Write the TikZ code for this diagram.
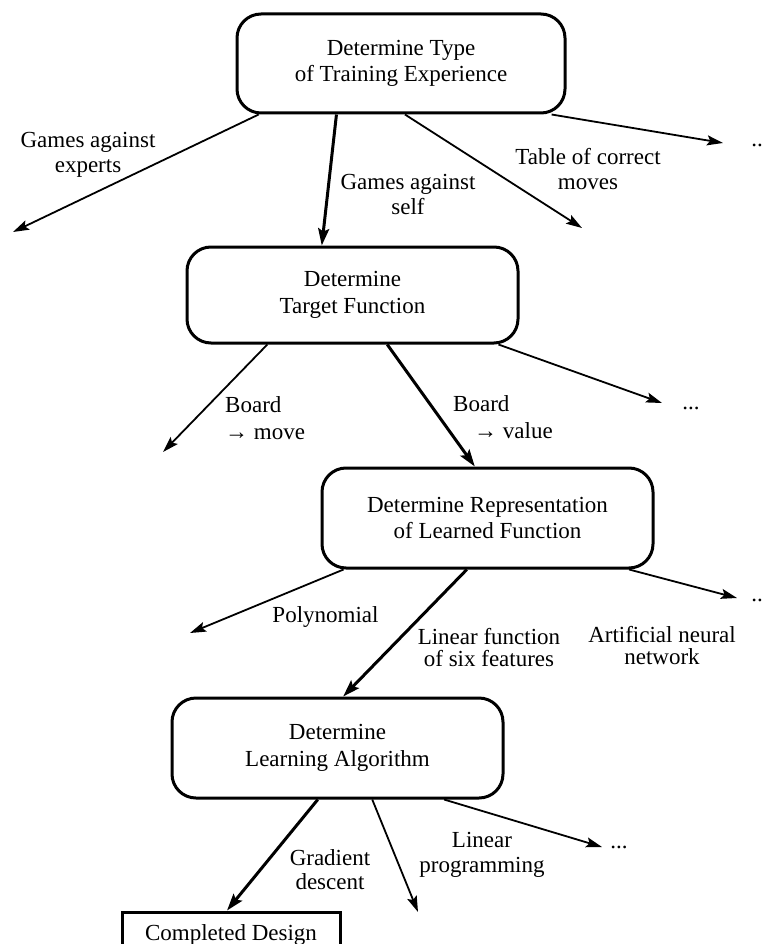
\documentclass[tikz,border=0pt]{standalone}
\usepackage{fontspec}
\setmainfont{Liberation Serif}
\usetikzlibrary{arrows.meta,calc}
\begin{document}
\begin{tikzpicture}[x=1pt,y=-1pt,
  box/.style={draw, line width=3pt, rounded corners=24pt, align=center, inner sep=0pt,
    minimum width=331pt, minimum height=100pt, font=\fontsize{23}{26.5}\selectfont},
  endbox/.style={draw, line width=3pt, align=center, inner sep=0pt,
    minimum width=218pt, minimum height=46pt, font=\fontsize{23}{26.5}\selectfont},
  lbl/.style={align=center, inner sep=0pt, font=\fontsize{23}{25}\selectfont},
  thinarrow/.style={line width=1.8pt, -{Stealth[length=16pt,width=10pt,inset=3pt]}},
  thickarrow/.style={line width=3pt, -{Stealth[length=17pt,width=11pt,inset=3pt]}}]
\useasboundingbox (0,0) rectangle (763,944);

% boxes
\node[box, minimum width=328pt, minimum height=99pt] (b1) at (401,63.5) {Determine Type\\of Training Experience};
\node[box, minimum height=96pt] (b2) at (352.5,295) {Determine\\Target Function};
\node[box] (b3) at (487.5,518) {Determine Representation\\of Learned Function};
\node[box] (b4) at (337.5,748) {Determine\\Learning Algorithm};
\node[endbox] (b5) at (231,935) {Completed Design};

% free ends
\coordinate (e1) at (13,232);
\coordinate (e3) at (582,228);
\coordinate (e4) at (723,143);
\coordinate (f1) at (163,452);
\coordinate (f3) at (662,403);
\coordinate (g1) at (190,633);
\coordinate (g3) at (737,598);
\coordinate (h2) at (418,912);
\coordinate (h3) at (602,847);

% level 1
\draw[thinarrow] ($(b1.south west)!0.07!(b1.south east)$) -- (e1);
\draw[thickarrow] ($(b1.south west)!0.305!(b1.south east)$) -- ($(b2.north west)!0.408!(b2.north east)$);
\draw[thinarrow] ($(b1.south west)!0.512!(b1.south east)$) -- (e3);
\draw[thinarrow] ($(b1.south west)!0.955!(b1.south east)$) -- (e4);
\node[lbl] (l1) at (88,155) {Games against\\experts};
\node[lbl] (l2) at (408,194) {Games against\\self};
\node[lbl] (l3) at (588,169.5) {Table of correct\\moves};
\node[lbl] (l4) at (757,145) {..};

% level 2
\draw[thinarrow] ($(b2.south west)!0.245!(b2.south east)$) -- (f1);
\draw[thickarrow] ($(b2.south west)!0.604!(b2.south east)$) -- ($(b3.north west)!0.462!(b3.north east)$);
\draw[thinarrow] ($(b2.south west)!0.937!(b2.south east)$) -- (f3);
\node[lbl, align=left, anchor=west, font=\fontsize{23}{27}\selectfont] (l5) at (225,418.5) {Board\\→ move};
\node[lbl, align=left, anchor=west, font=\fontsize{23}{27}\selectfont] (l6) at (453,417) {Board\\\hspace*{21pt}→ value};
\node[lbl] (l7) at (691,408) {...};

% level 3
\draw[thinarrow] ($(b3.south west)!0.069!(b3.south east)$) -- (g1);
\draw[thickarrow] ($(b3.south west)!0.438!(b3.south east)$) -- ($(b4.north west)!0.517!(b4.north east)$);
\draw[thinarrow] ($(b3.south west)!0.924!(b3.south east)$) -- (g3);
\node[lbl] (l8) at (325.5,617) {Polynomial};
\node[lbl, font=\fontsize{23}{22}\selectfont] (l9) at (489,647.5) {Linear function\\of six features};
\node[lbl, font=\fontsize{23}{22}\selectfont] (l10) at (662,646) {Artificial neural\\network};
\node[lbl] (l11) at (757,600) {..};

% level 4
\draw[thickarrow] ($(b4.south west)!0.441!(b4.south east)$) -- ($(b5.north west)!0.482!(b5.north east)$);
\draw[thinarrow] ($(b4.south west)!0.604!(b4.south east)$) -- (h2);
\draw[thinarrow] ($(b4.south west)!0.819!(b4.south east)$) -- (h3);
\node[lbl, font=\fontsize{23}{24}\selectfont] (l12) at (330,870) {Gradient\\descent};
\node[lbl] (l13) at (482,854.5) {Linear\\programming};
\node[lbl] (l14) at (619,847) {...};
\end{tikzpicture}
\end{document}
